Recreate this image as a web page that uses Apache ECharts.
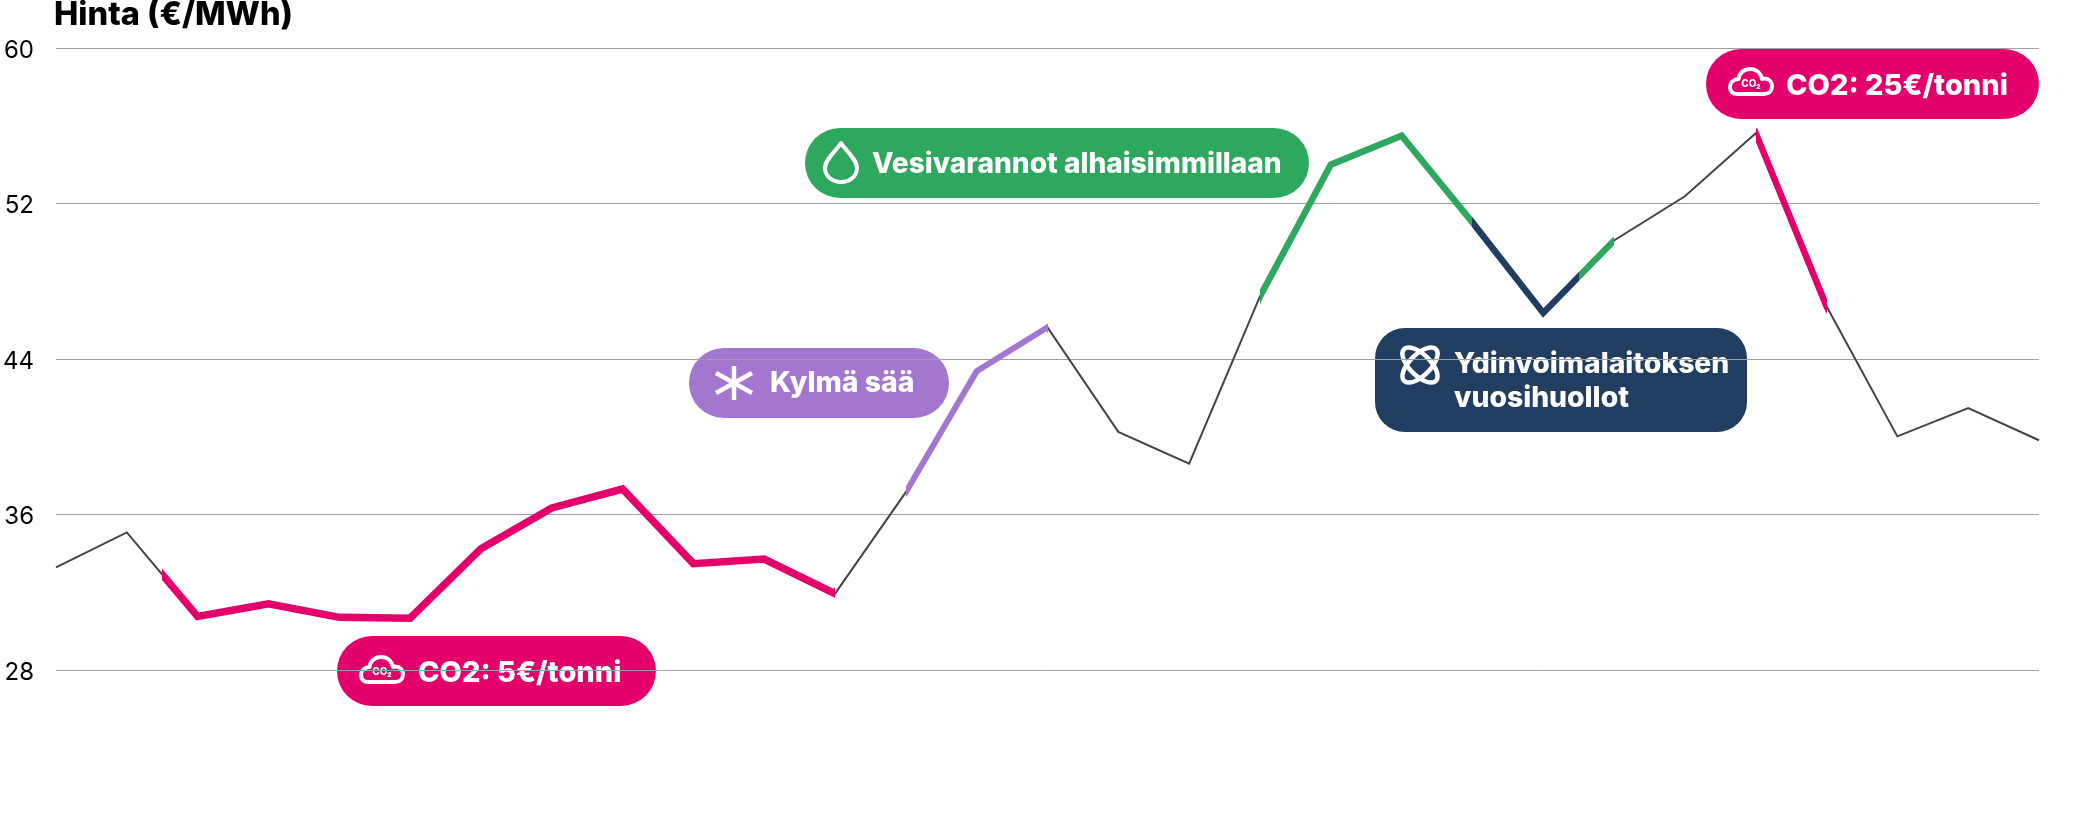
<!DOCTYPE html>
<html lang="fi">
<head>
<meta charset="utf-8">
<title>Hinta (€/MWh)</title>
<script src="https://cdn.jsdelivr.net/npm/echarts@6/dist/echarts.min.js"></script>
<style>
  html, body { margin: 0; padding: 0; background: #fff; }
  #chart { width: 2087px; height: 815px; }
</style>
</head>
<body>
<div id="chart"></div>
<script>
// Price per period, in €/MWh
const prices = [
  33.28, 35.08, 30.75, 31.41, 30.71, 30.66, 34.24, 36.34, 37.31, 33.47,
  33.71, 31.93, 37.15, 43.37, 45.63, 40.25, 38.62, 47.22, 54.0, 55.49,
  51.03, 46.37, 50.1, 52.37, 55.62, 46.71, 40.02, 41.48, 39.82
];
const yTicks = [28, 36, 44, 52, 60];

// Stretches of the curve explained by an event, as [from, to] period positions
const co2LowSpan = [1.5, 11];
const coldSpan = [12, 14];
const waterSpan = [17, 20];
const nuclearSpan = [20, 21.5];
const waterLateSpan = [21.5, 22];
const co2HighSpan = [24, 25];

const axisTitle = 'Hinta (€/MWh)';
const co2LowLabel = 'CO2: 5€/tonni';
const co2HighLabel = 'CO2: 25€/tonni';
const coldLabel = 'Kylmä sää';
const waterLabel = 'Vesivarannot alhaisimmillaan';
const nuclearLines = ['Ydinvoimalaitoksen', 'vuosihuollot'];

const PINK = '#e4006a';
const PURPLE = '#a377cf';
const GREEN = '#2ea85f';
const NAVY = '#213e60';
const FONT = 'Inter, "Noto Sans", sans-serif';

// Icon outlines used inside the labels
echarts.graphic.registerShape('cloudIcon', echarts.graphic.extendPath(
  'M9 27 H36 C41 27 44 23.5 44 19.5 C44 15 41 11.5 36.5 11.5 C35.5 11.5 34.5 11.7 34 12 C32.5 5.5 28 2 22.5 2 C16 2 11 6 10.5 12 C5.5 12.3 2 15.5 2 20 C2 24.5 5 27 9 27 Z', {}));
echarts.graphic.registerShape('dropIcon', echarts.graphic.extendPath(
  'M18 2 C14 9 2 18 2 27 C2 35 9 41 18 41 C27 41 34 35 34 27 C34 18 22 9 18 2 Z', {}));
echarts.graphic.registerShape('snowIcon', echarts.graphic.extendPath(
  'M0 -17 V17 M-18 -10 L18 10 M-18 10 L18 -10', {}));

const points = prices.map((v, i) => [i, v]);
const thick = (name, width) => ({
  name, type: 'line', data: points, symbol: 'none', z: 3, silent: true,
  lineStyle: { width, join: 'miter', miterLimit: 12 }
});
const spanMap = (seriesIndex, pieces) => ({
  type: 'piecewise', show: false, seriesIndex, dimension: 0,
  pieces: pieces.map(([span, color]) => ({ min: span[0], max: span[1], color })),
  outOfRange: { color: 'rgba(0,0,0,0)' }
});

// Rounded label: background, icon, one or more text lines
function pill(x, y, w, h, r, color, fontSize, lines, textX, textYs, icon) {
  return {
    type: 'group', x, y, z: 10, silent: true,
    children: [
      { type: 'rect', shape: { x: 0, y: 0, width: w, height: h, r }, style: { fill: color } },
      icon,
      ...lines.map((text, i) => ({
        type: 'text', x: textX, y: textYs[i],
        style: { text, fill: '#fff', font: `800 ${fontSize}px ${FONT}`, textVerticalAlign: 'middle', textAlign: 'left' }
      }))
    ]
  };
}
const outline = { fill: 'none', stroke: '#fff', lineWidth: 4, lineJoin: 'round', lineCap: 'round' };
const cloud = (x, y) => ({
  type: 'group', x, y,
  children: [
    { type: 'cloudIcon', style: outline },
    { type: 'text', x: 23, y: 17, style: { text: 'CO₂', fill: '#fff', font: `800 10px ${FONT}`, textAlign: 'center', textVerticalAlign: 'middle' } }
  ]
});
const drop = (x, y) => ({ type: 'dropIcon', x, y, style: outline });
const snow = (x, y) => ({
  type: 'snowIcon', x, y,
  style: { ...outline, lineWidth: 4.5, lineCap: 'butt' }
});
const atom = (x, y) => ({
  type: 'group', x, y,
  children: [45, -45].map((deg) => ({
    type: 'ellipse', rotation: deg * Math.PI / 180,
    shape: { cx: 0, cy: 0, rx: 22.5, ry: 10.5 },
    style: { ...outline, lineWidth: 4.5 }
  }))
});

const chart = echarts.init(document.getElementById('chart'), null, { renderer: 'canvas' });
chart.setOption({
  animation: false,
  backgroundColor: '#fff',
  title: {
    text: axisTitle, left: 54, top: -1, padding: 0,
    textStyle: { color: '#000', fontFamily: FONT, fontWeight: 800, fontSize: 32.5 }
  },
  grid: { left: 56, right: 48, top: 48, bottom: 145 },
  xAxis: {
    type: 'value', min: 0, max: prices.length - 1,
    axisLine: { show: false }, axisTick: { show: false }, axisLabel: { show: false }, splitLine: { show: false }
  },
  yAxis: {
    type: 'value', min: 28, max: 60,
    axisLine: { show: false },
    axisTick: { show: false, customValues: yTicks },
    axisLabel: {
      customValues: yTicks, margin: 22, color: '#000', fontFamily: FONT, fontSize: 24,
      padding: [0, 0, 0, 0], verticalAlign: 'middle', lineHeight: 24, formatter: (v) => `{d|${v}}`,
      rich: { d: { fontFamily: FONT, fontSize: 24, color: '#000', padding: [5, 0, 0, 0] } }
    },
    splitLine: { show: true, lineStyle: { color: '#a0a0a0', width: 1 } }
  },
  visualMap: [
    spanMap(1, [[co2LowSpan, PINK]]),
    spanMap(2, [[coldSpan, PURPLE]]),
    spanMap(3, [[waterSpan, GREEN], [nuclearSpan, NAVY], [waterLateSpan, GREEN]]),
    spanMap(4, [[co2HighSpan, PINK]])
  ],
  series: [
    { name: 'Hinta', type: 'line', data: points, symbol: 'none', z: 2, silent: true,
      lineStyle: { color: '#444', width: 2, join: 'miter' } },
    thick('CO2 matala', 7.5),
    thick('Kylmä sää', 6),
    thick('Vesi ja ydinvoima', 6.5),
    thick('CO2 korkea', 6.5)
  ],
  graphic: [
    pill(337, 636, 319, 70, 35, PINK, 29, [co2LowLabel], 81, [37], cloud(22, 19)),
    pill(689, 348, 260, 70, 35, PURPLE, 28.4, [coldLabel], 81, [35], snow(45, 35)),
    pill(805, 128, 504, 70, 35, GREEN, 28.1, [waterLabel], 67, [37], drop(18, 13)),
    pill(1375, 328, 372, 104, 30, NAVY, 28.3, nuclearLines, 79, [36, 70], atom(45, 37)),
    pill(1706, 49, 333, 70, 35, PINK, 29, [co2HighLabel], 80, [37], cloud(22, 18))
  ]
});
</script>
</body>
</html>
